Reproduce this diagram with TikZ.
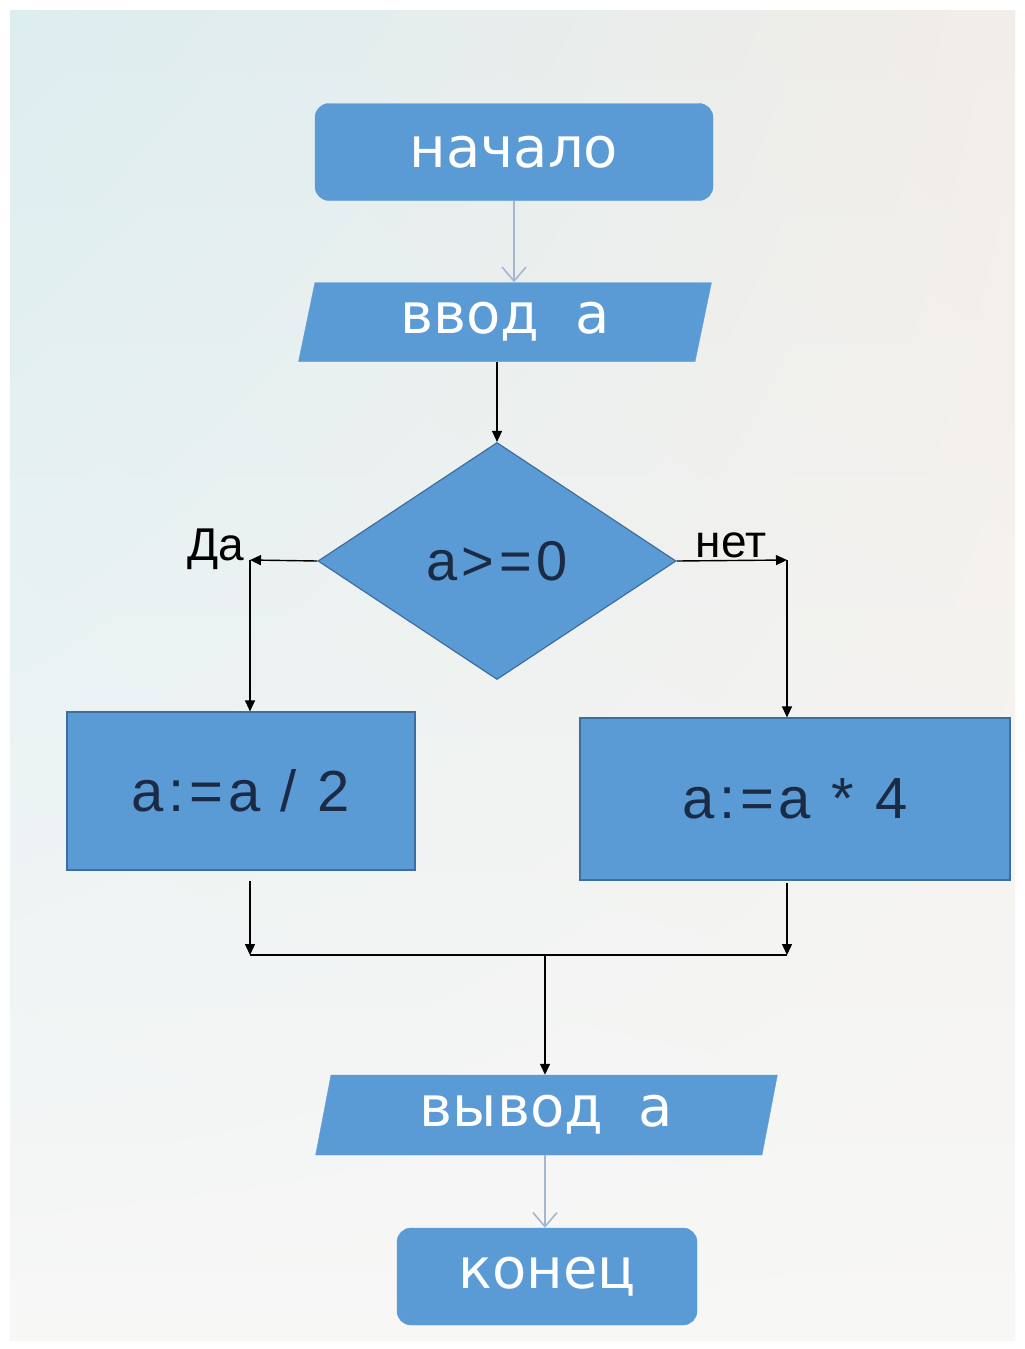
\documentclass[tikz,border=0pt]{standalone}
\usepackage{fontspec}
\setmainfont{DejaVu Sans}
\newfontfamily\arialf[LetterSpace=8]{Liberation Sans}
\newfontfamily\arialn{Liberation Sans}
\usetikzlibrary{shapes.geometric,arrows.meta,calc,shadings}
\definecolor{boxblue}{HTML}{5B9BD5}
\definecolor{boxedge}{HTML}{3F6E9C}
\definecolor{txtdark}{HTML}{1B2A45}
\definecolor{lightln}{HTML}{A3B8CF}
\definecolor{bgwarm}{HTML}{F2EDE8}
\definecolor{bglow}{HTML}{F7F7F6}
\definecolor{bgcool}{HTML}{DCEDF0}
\tikzset{
  termbox/.style={rectangle,rounded corners=14pt,fill=boxblue,draw=boxblue,text=white,
    font=\fontsize{56}{60}\selectfont,inner sep=0pt},
  iobox/.style={trapezium,trapezium left angle=77,trapezium right angle=103,trapezium stretches=true,
    fill=boxblue,draw=boxblue,text=white,font=\fontsize{56}{60}\selectfont,inner sep=0pt},
  procbox/.style={rectangle,fill=boxblue,draw=boxedge,line width=1.2pt,text=txtdark,
    font=\arialf\fontsize{58}{62}\selectfont,inner sep=0pt},
  decbox/.style={diamond,fill=boxblue,draw=boxedge,line width=1.2pt,text=txtdark,
    font=\arialf\fontsize{56}{60}\selectfont,inner sep=0pt},
  blkarrow/.style={draw=black,line width=1.4pt,-{Triangle[length=11pt,width=10pt]}},
  blkline/.style={draw=black,line width=1.4pt},
  lightarrow/.style={draw=lightln,line width=2pt,-{Straight Barb[length=14pt,width=24pt,line width=1.6pt]}},
  branchlbl/.style={font=\arialn\fontsize{46}{50}\selectfont,text=black,inner sep=0pt}
}
\begin{document}
\begin{tikzpicture}[x=1pt,y=-1pt]
\useasboundingbox (0,0) rectangle (1025,1349);
\fill[white] (0,0) rectangle (1025,1349);
\shade[upper left=bgcool,upper right=bgwarm,lower left=bglow,lower right=bglow] (10,10) rectangle (1015,1340);

\node[termbox,minimum width=398pt,minimum height=97pt] (start) at (514,152) {начало};
\node[iobox,minimum width=414pt,minimum height=79pt] (in) at (505,322) {ввод\ \ а};
\node[decbox,minimum width=358pt,minimum height=237pt] (dia) at (497,561) {a>=0};
\node[procbox,minimum width=348pt,minimum height=158pt] (L) at (241,791) {a:=a / 2};
\node[procbox,minimum width=430pt,minimum height=162pt] (R) at (795,799) {a:=a * 4};
\node[iobox,minimum width=463pt,minimum height=80pt] (out) at (546.5,1115) {вывод\ \ а};
\node[termbox,minimum width=300pt,minimum height=97pt] (end) at (547,1276.5) {конец};

\node[branchlbl] (yes) at (216,549) {Да};
\node[branchlbl] (no) at (731,545) {нет};

\coordinate (cl) at (250,560);
\coordinate (cr) at (787,560);
\coordinate (ml) at (250,955);
\coordinate (mr) at (787,955);
\coordinate (mm) at (545,955);

\draw[lightarrow] (start.south) -- (start.south |- in.north);
\draw[blkarrow] (dia.north |- in.south) -- (dia.north);
\draw[blkarrow] (dia.west) -- (cl);
\draw[blkarrow] (cl) -- (cl |- L.north);
\draw[blkarrow] (dia.east) -- (cr);
\draw[blkarrow] (cr) -- (cr |- R.north);
\draw[blkarrow] ($(ml |- L.south)+(0,10)$) -- (ml);
\draw[blkarrow] ($(mr |- R.south)+(0,2)$) -- (mr);
\draw[blkline] (ml) -- (mr);
\draw[blkarrow] (mm) -- (mm |- out.north);
\draw[lightarrow] (mm |- out.south) -- (mm |- end.north);
\end{tikzpicture}
\end{document}
